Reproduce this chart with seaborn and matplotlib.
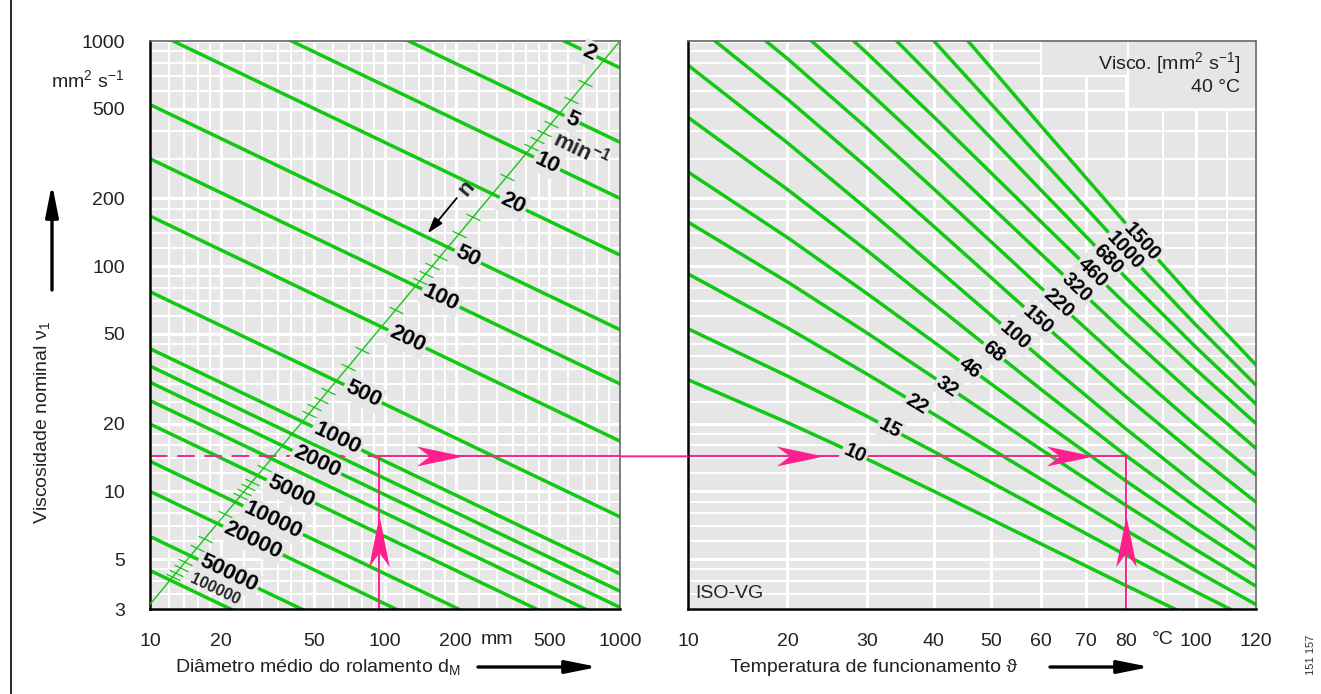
import numpy as np
import pandas as pd
import matplotlib
matplotlib.use("Agg")
import matplotlib.pyplot as plt
import seaborn as sns
from matplotlib.path import Path
from matplotlib.patches import ConnectionPatch, Rectangle, FancyArrowPatch
from matplotlib.lines import Line2D
from matplotlib.ticker import NullFormatter
from matplotlib.font_manager import fontManager

# ---------------- data ----------------
# speed lines n [min^-1]: required viscosity at d_M = 10 mm and d_M = 1000 mm
speed_n = [2, 5, 10, 20, 50, 100, 200, 500, 1000, 1500, 2000, 3000, 5000,
           10000, 20000, 50000, 100000]
visc_d10 = [7600, 3550, 2000, 1120, 522, 300, 167, 77, 43, 36, 30.5, 25.3,
            19.9, 13.6, 10.0, 6.3, 4.45]
visc_d1000 = [760, 355, 200, 112, 52.2, 30, 16.7, 7.7, 4.3, 3.6, 3.05, 2.53,
              1.99, 1.36, 1.0, 0.63, 0.445]

speed_labels = ["2", "5", "10", "20", "50", "100", "200", "500", "1000", "2000",
                "5000", "10000", "20000", "50000", "100000"]
speed_label_d = [738, 625, 489, 350, 225, 173, 124, 80.6, 62.5, 51.3, 39.8,
                 33.4, 27.4, 21.5, 18.9]

# speed scale (diagonal) and its intermediate marks
scale_d = [10, 1000]
scale_visc = [3.15, 1000]
scale_tick_d = [708, 617, 509, 473, 444, 420, 330, 237, 207, 171, 159, 149, 141,
                111, 79.7, 69.5, 57.3, 53.3, 50.0, 47.3, 30.5, 27.2, 26.0, 25.0,
                24.2, 20.9, 17.1, 15.8, 14.1, 13.5, 12.9, 12.5]

# ISO VG viscosity-temperature lines
vg_temps = [10, 20, 30, 40, 60, 80, 100, 120]
vg_grades = [10, 15, 22, 32, 46, 68, 100, 150, 220, 320, 460, 680, 1000, 1500]
vg10 = [31.3, 20.2, 13.9, 10, 5.83, 3.81, 2.70, 2.03]
vg15 = [52.7, 32.5, 21.5, 15, 8.30, 5.20, 3.57, 2.62]
vg22 = [92.4, 53.2, 33.1, 22, 11.3, 6.70, 4.42, 3.14]
vg32 = [157, 85.1, 50.4, 32, 15.3, 8.65, 5.49, 3.79]
vg46 = [262, 134, 75.4, 46, 20.6, 11.1, 6.80, 4.57]
vg68 = [458, 219, 117, 68, 28.3, 14.4, 8.5, 5.54]
vg100 = [781, 353, 179, 100, 38.9, 18.9, 10.7, 6.76]
vg150 = [1248, 552, 274, 150, 56.2, 26.3, 14.5, 8.95]
vg220 = [1912, 835, 409, 220, 79.9, 36.4, 19.5, 11.8]
vg320 = [2873, 1246, 602, 320, 113, 50.1, 26.2, 15.5]
vg460 = [4356, 1856, 881, 460, 157, 67.6, 34.6, 20.0]
vg680 = [7433, 2989, 1356, 680, 217, 88.7, 43.5, 24.4]
vg1000 = [12620, 4801, 2079, 1000, 299, 116, 54.6, 29.6]
vg1500 = [21930, 7900, 3261, 1500, 418, 154, 69.3, 36.4]
vg_visc = [vg10, vg15, vg22, vg32, vg46, vg68, vg100, vg150, vg220, vg320,
           vg460, vg680, vg1000, vg1500]
vg_label_T = [28.3, 33.2, 37.3, 42.2, 46.1, 50.5, 54.6, 59.3, 63.6, 67.9,
              71.7, 75.4, 79.7, 84.2]

# worked example
example_d = 94
example_visc = 14.3
example_T = 80
arrow_right_d = [172]
arrow_right_T = [21.4, 66.3]
arrow_up_visc = 6.0

# axes ticks
d_ticks = [10, 20, 50, 100, 200, 500, 1000]
d_grid = [12, 14, 16, 18, 25, 30, 35, 40, 45, 60, 70, 80, 90, 120, 140, 160, 180,
          250, 300, 350, 400, 450, 600, 700, 800, 900]
visc_ticks = [3, 5, 10, 20, 50, 100, 200, 500, 1000]
visc_grid = [3.5, 4, 4.5, 6, 7, 8, 9, 12, 14, 16, 18, 25, 30, 35, 40, 45, 60, 70,
             80, 90, 120, 140, 160, 180, 300, 400, 600, 700, 800, 900]
temp_ticks = [10, 20, 30, 40, 50, 60, 70, 80, 100, 120]
temp_grid = [90, 110]

# ---------------- style ----------------
GREEN = "#12c812"
PINK = "#ff1f8c"
BG = "#e6e6e6"
INK = "#222222"

sns.set_theme(style="white")
names = {f.name for f in fontManager.ttflist}
NARROW = "Liberation Sans Narrow" if "Liberation Sans Narrow" in names else "Liberation Sans"
plt.rcParams["font.family"] = ["Liberation Sans", "DejaVu Sans"]
plt.rcParams["mathtext.fontset"] = "custom"
plt.rcParams["mathtext.rm"] = "Liberation Sans"
plt.rcParams["mathtext.it"] = "Liberation Sans:italic"
plt.rcParams["mathtext.bf"] = "Liberation Sans:bold"

W, H = 1321, 694
fig = plt.figure(figsize=(W / 100, H / 100), dpi=100)
fig.patch.set_facecolor("white")


def fx(x):
    return x / W


def fy(y):
    return 1 - y / H


axL = fig.add_axes([fx(150), fy(609), (620 - 150) / W, (609 - 41) / H])
axR = fig.add_axes([fx(688), fy(609), (1256 - 688) / W, (609 - 41) / H])


def t_fwd(t):
    return np.log10(np.asarray(t, dtype=float) + 26.0)


def t_inv(u):
    return 10 ** np.asarray(u, dtype=float) - 26.0


axL.set_xscale("log")
axL.set_yscale("log")
axR.set_xscale("function", functions=(t_fwd, t_inv))
axR.set_yscale("log")
axL.set_xlim(10, 1000)
axR.set_xlim(10, 120)
for ax in (axL, axR):
    ax.set_ylim(3, 1000)
    ax.set_facecolor(BG)
    ax.set_axisbelow(True)

# ticks and grid
axL.set_xticks(d_ticks, labels=[str(v) for v in d_ticks])
axL.set_xticks(d_grid, minor=True)
axL.set_yticks(visc_ticks, labels=[str(v) for v in visc_ticks])
axR.set_xticks(temp_ticks, labels=[str(v) for v in temp_ticks])
axR.set_xticks(temp_grid, minor=True)
axR.set_yticks(visc_ticks, labels=[""] * len(visc_ticks))
for ax in (axL, axR):
    ax.set_yticks(visc_grid, minor=True)
    ax.xaxis.set_minor_formatter(NullFormatter())
    ax.yaxis.set_minor_formatter(NullFormatter())
    ax.grid(which="major", color="white", lw=2.2)
    ax.grid(which="minor", color="white", lw=1.4)
    ax.tick_params(which="minor", length=0)
    ax.tick_params(which="major", direction="out", length=9, width=1.2,
                   color="black", labelsize=14, labelcolor=INK, pad=8)
    for lab in ax.get_xticklabels() + ax.get_yticklabels():
        lab.set_fontfamily(NARROW)
    for side in ("left", "bottom"):
        ax.spines[side].set_color("black")
        ax.spines[side].set_linewidth(1.8)
    for side in ("top", "right"):
        ax.spines[side].set_color("#666666")
        ax.spines[side].set_linewidth(1.2)
axR.tick_params(axis="y", length=0)
axL.tick_params(axis="y", pad=9)

# ---------------- left panel: speed lines ----------------
rows = []
for n, a, b in zip(speed_n, visc_d10, visc_d1000):
    rows.append({"n": n, "d": 10, "visc": a})
    rows.append({"n": n, "d": 1000, "visc": b})
df_speed = pd.DataFrame(rows)
sns.lineplot(data=df_speed, x="d", y="visc", units="n", estimator=None,
             color=GREEN, lw=2.5, ax=axL, legend=False, zorder=2)
axL.set_xlabel("")
axL.set_ylabel("")


def speed_visc(i, d):
    return 10 ** np.interp(np.log10(d), [1, 3],
                           [np.log10(visc_d10[i]), np.log10(visc_d1000[i])])


def seg_angle(ax, p0, p1):
    a = ax.transData.transform(p0)
    b = ax.transData.transform(p1)
    return np.degrees(np.arctan2(b[1] - a[1], b[0] - a[0]))


def line_label(ax, x, y, text, ang, size):
    """Label sitting in a gap of its line: a background-coloured mask first,
    the lettering above every mask so neighbouring labels never clip."""
    kw = dict(rotation=ang, rotation_mode="anchor", ha="center", va="center",
              fontsize=size, fontweight="bold")
    ax.text(x, y, text, color=(0, 0, 0, 0), zorder=3,
            bbox=dict(boxstyle="square,pad=0.1", fc=BG, ec="none"), **kw)
    ax.text(x, y, text, color="black", zorder=3.5, **kw)


# diagonal speed scale with its intermediate marks
axL.plot(scale_d, scale_visc, color=GREEN, lw=1.0, zorder=4)
ang_speed = seg_angle(axL, (10, speed_visc(0, 10)), (1000, speed_visc(0, 1000)))
c, s = np.cos(np.radians(ang_speed)), np.sin(np.radians(ang_speed))
tick_marker = Path([(-c, -s), (c, s)], [Path.MOVETO, Path.LINETO])
tick_v = 10 ** np.interp(np.log10(scale_tick_d), np.log10(scale_d), np.log10(scale_visc))
axL.plot(scale_tick_d, tick_v, ls="none", marker=tick_marker, ms=10,
         mew=0.9, color=GREEN, zorder=4)

for lab, d in zip(speed_labels, speed_label_d):
    i = speed_n.index(int(lab))
    v = speed_visc(i, d)
    ang = seg_angle(axL, (d / 1.2, speed_visc(i, d / 1.2)), (d * 1.2, speed_visc(i, d * 1.2)))
    if lab == "100000":
        axL.annotate(lab, (d, v), xytext=(0, 9), textcoords="offset points",
                     rotation=ang, rotation_mode="anchor", ha="center", va="center",
                     fontsize=11.5, fontweight="bold", zorder=3.5)
    else:
        line_label(axL, d, v, lab, ang, 16)

axL.text(689, 330, r"min$^{\mathbf{-1}}$", rotation=ang_speed, rotation_mode="anchor",
         ha="center", va="center", fontsize=16, fontweight="bold", zorder=3.5)
axL.annotate("", xy=(152, 140), xytext=(202, 200.6),
             arrowprops=dict(arrowstyle="-|>,head_length=0.8,head_width=0.25",
                             color="black", lw=1.3, shrinkA=0, shrinkB=0), zorder=4)
axL.text(222, 222, "n", rotation=50, ha="center", va="center", fontsize=16,
         fontweight="bold", zorder=4)

# ---------------- right panel: ISO VG lines ----------------
rows = []
for g, vals in zip(vg_grades, vg_visc):
    for t, v in zip(vg_temps, vals):
        rows.append({"grade": g, "T": t, "visc": v})
df_vg = pd.DataFrame(rows)
sns.lineplot(data=df_vg, x="T", y="visc", units="grade", estimator=None,
             color=GREEN, lw=2.5, ax=axR, legend=False, zorder=2)
axR.set_xlabel("")
axR.set_ylabel("")


def vg_value(k, t):
    return 10 ** np.interp(t_fwd(t), t_fwd(vg_temps), np.log10(vg_visc[k]))


for k, (g, t) in enumerate(zip(vg_grades, vg_label_T)):
    v = vg_value(k, t)
    ang = seg_angle(axR, (t - 2, vg_value(k, t - 2)), (t + 2, vg_value(k, t + 2)))
    line_label(axR, t, v, str(g), ang, 14.5)

# cleared corner behind the legend text
axR.add_patch(Rectangle((80.5, 500), 39.5, 500, fc=BG, ec="white", lw=1.4, zorder=1))
axR.add_patch(Rectangle((60, 700), 20.5, 300, fc=BG, ec="white", lw=1.4, zorder=1))
axR.text(0.972, 0.962, r"Visco. [mm$^2$ s$^{-1}$]", transform=axR.transAxes,
         ha="right", va="center", fontsize=14, color=INK, zorder=3)
axR.text(0.972, 0.918, "40 °C", transform=axR.transAxes, ha="right", va="center",
         fontsize=14, color=INK, zorder=3)
axR.text(0.012, 0.027, "ISO-VG", transform=axR.transAxes, ha="left", va="center",
         fontsize=14, color=INK, zorder=3)

# ---------------- worked example ----------------
axL.plot([10, example_d], [example_visc, example_visc], color=PINK, lw=1.4,
         dashes=(9, 5), zorder=2.5)
axL.plot([example_d, 1000], [example_visc, example_visc], color=PINK, lw=1.4, zorder=2.5)
axL.plot([example_d, example_d], [3, example_visc], color=PINK, lw=1.4, zorder=2.5)
axR.plot([10, example_T], [example_visc, example_visc], color=PINK, lw=1.4, zorder=2.5)
axR.plot([example_T, example_T], [3, example_visc], color=PINK, lw=1.4, zorder=2.5)
fig.add_artist(ConnectionPatch(xyA=(1000, example_visc), coordsA=axL.transData,
                               xyB=(10, example_visc), coordsB=axR.transData,
                               color=PINK, lw=1.4))

head_right = Path([(1, 0), (-1, 0.42), (-0.45, 0), (-1, -0.42), (1, 0)],
                  [Path.MOVETO, Path.LINETO, Path.LINETO, Path.LINETO, Path.CLOSEPOLY])
head_up = Path([(0, 1), (0.4, -1), (0, -0.45), (-0.4, -1), (0, 1)],
               [Path.MOVETO, Path.LINETO, Path.LINETO, Path.LINETO, Path.CLOSEPOLY])
axL.plot(arrow_right_d, [example_visc] * len(arrow_right_d), ls="none",
         marker=head_right, ms=34, color=PINK, mew=0, zorder=2.6)
axR.plot(arrow_right_T, [example_visc] * len(arrow_right_T), ls="none",
         marker=head_right, ms=34, color=PINK, mew=0, zorder=2.6)
axL.plot([example_d], [arrow_up_visc], ls="none", marker=head_up, ms=37,
         color=PINK, mew=0, zorder=2.6)
axR.plot([example_T], [arrow_up_visc], ls="none", marker=head_up, ms=37,
         color=PINK, mew=0, zorder=2.6)

# ---------------- axis texts ----------------
tick_y = -0.054
axL.text(300, tick_y, "mm", transform=axL.get_xaxis_transform(), ha="center",
         va="center", fontsize=14, family=NARROW, color=INK)
axR.text(90, tick_y, "°C", transform=axR.get_xaxis_transform(), ha="center",
         va="center", fontsize=14, family=NARROW, color=INK)
fig.text(fx(124), fy(80), r"mm$^2$ s$^{-1}$", ha="right", va="center",
         fontsize=14, color=INK)

arrow_kw = dict(arrowstyle="-|>,head_length=1.6,head_width=0.32", color="black",
                lw=2.4, shrinkA=0, shrinkB=0, mutation_scale=12)
fig.text(fx(175), fy(667), r"Diâmetro médio do rolamento d$_\mathrm{M}$", ha="left",
         va="center", fontsize=14, color=INK)
fig.add_artist(FancyArrowPatch((fx(478), fy(667)), (fx(598), fy(667)),
                               transform=fig.transFigure, **arrow_kw))
fig.text(fx(730), fy(667), "Temperatura de funcionamento ϑ", ha="left",
         va="center", fontsize=14, color=INK)
fig.add_artist(FancyArrowPatch((fx(1050), fy(667)), (fx(1150), fy(667)),
                               transform=fig.transFigure, **arrow_kw))
fig.text(fx(42), fy(422), r"Viscosidade nominal ν$_1$", rotation=90, ha="center",
         va="center", fontsize=14, color=INK)
fig.add_artist(FancyArrowPatch((fx(52), fy(290)), (fx(52), fy(184)),
                               transform=fig.transFigure, **arrow_kw))
fig.text(fx(1311), fy(655), "151 157", rotation=90, ha="center", va="center",
         fontsize=8, color="#333333")

# outer frame line
fig.add_artist(Line2D([fx(11), fx(11)], [0, 1], transform=fig.transFigure,
                      color="black", lw=1.2))

fig.savefig("out.png", dpi=100, facecolor="white")
